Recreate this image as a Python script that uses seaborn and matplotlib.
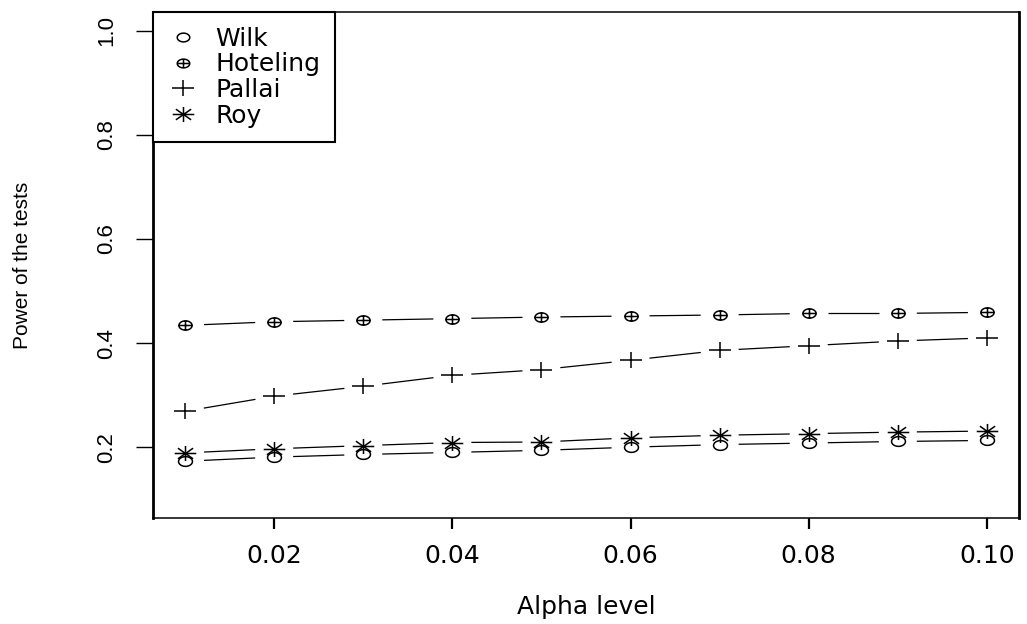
import numpy as np
import matplotlib
matplotlib.use("Agg")
import matplotlib.pyplot as plt
import seaborn as sns
from matplotlib.path import Path
from matplotlib.markers import MarkerStyle
from matplotlib.collections import LineCollection
from matplotlib.lines import Line2D

# Significance levels and estimated power of the four multivariate tests
alpha = [0.01, 0.02, 0.03, 0.04, 0.05, 0.06, 0.07, 0.08, 0.09, 0.10]
wilk = [0.173, 0.181, 0.186, 0.190, 0.194, 0.200, 0.205, 0.208, 0.211, 0.213]
hoteling = [0.434, 0.441, 0.444, 0.447, 0.450, 0.452, 0.454, 0.457, 0.457, 0.459]
pallai = [0.269, 0.298, 0.317, 0.338, 0.349, 0.367, 0.386, 0.395, 0.404, 0.410]
roy = [0.189, 0.197, 0.203, 0.209, 0.210, 0.218, 0.223, 0.226, 0.229, 0.231]
test_names = ["Wilk", "Hoteling", "Pallai", "Roy"]

x_ticks = [0.02, 0.04, 0.06, 0.08, 0.10]
y_ticks = [0.2, 0.4, 0.6, 0.8, 1.0]

sns.set_theme(style="white")
plt.rcParams["font.family"] = ["DejaVu Sans"]
plt.rcParams.update({
    "axes.edgecolor": "black",
    "text.color": "black",
    "axes.labelcolor": "black",
    "xtick.color": "black",
    "ytick.color": "black",
})

# ---- R-style plotting symbols (slightly flattened) ----
SQ = 0.7


def ellipse_path(n=72):
    t = np.linspace(0, 2 * np.pi, n)
    v = np.column_stack([np.cos(t), SQ * np.sin(t)])
    codes = [Path.MOVETO] + [Path.LINETO] * (n - 2) + [Path.CLOSEPOLY]
    return Path(v, codes)


def plus_path():
    v = [(-1, 0), (1, 0), (0, -SQ), (0, SQ)]
    return Path(v, [Path.MOVETO, Path.LINETO, Path.MOVETO, Path.LINETO])


def cross_path():
    d = 1 / np.sqrt(2)
    v = [(-d, -SQ * d), (d, SQ * d), (-d, SQ * d), (d, -SQ * d)]
    return Path(v, [Path.MOVETO, Path.LINETO, Path.MOVETO, Path.LINETO])


sym_circle = ellipse_path()
sym_oplus = Path.make_compound_path(ellipse_path(), plus_path())
sym_plus = plus_path()
sym_star = Path.make_compound_path(plus_path(), cross_path())

series = [wilk, hoteling, pallai, roy]
symbols = [sym_circle, sym_oplus, sym_plus, sym_star]
sym_sizes = [10.0, 9.5, 16.0, 15.5]

fig = plt.figure(figsize=(10.27, 6.24), dpi=100)
ax = fig.add_axes([153 / 1027, 1 - 518 / 624, 866 / 1027, 506 / 624])
ax.set_xlim(0.0064, 0.1036)
ax.set_ylim(0.064, 1.036)

# Points
for vals, sym, ms, name in zip(series, symbols, sym_sizes, test_names):
    sns.lineplot(x=alpha, y=vals, ax=ax, marker=MarkerStyle(sym), linestyle="none",
                 markersize=ms, markerfacecolor="none", markeredgecolor="black",
                 markeredgewidth=1.1, color="black", errorbar=None, label=name,
                 legend=False)

# Connecting segments with gaps around each point (type = "b")
GAP = 19.0  # pixels
fig.canvas.draw()
to_px = ax.transData
to_data = ax.transData.inverted()
for vals in series:
    pts = to_px.transform(np.column_stack([alpha, vals]))
    segs = []
    for p0, p1 in zip(pts[:-1], pts[1:]):
        d = p1 - p0
        L = np.hypot(*d)
        if L <= 2 * GAP:
            continue
        u = d / L
        a = to_data.transform(p0 + u * GAP)
        b = to_data.transform(p1 - u * GAP)
        segs.append([a, b])
    ax.add_collection(LineCollection(segs, colors="black", linewidths=0.9))

# Axes styling
ax.set_xticks(x_ticks)
ax.set_xticklabels([f"{v:.2f}" for v in x_ticks], fontsize=18)
ax.set_yticks(y_ticks)
ax.set_yticklabels([f"{v:.1f}" for v in y_ticks], rotation=90, va="center",
                   fontsize=16, family="Liberation Sans")
ax.tick_params(axis="x", direction="out", length=8, width=1.6, pad=11,
               bottom=True, colors="black")
ax.tick_params(axis="y", direction="out", length=12, width=1.0, pad=14,
               left=True, colors="black")
for side in ["left", "right"]:
    ax.spines[side].set_linewidth(2.0)
for side in ["top", "bottom"]:
    ax.spines[side].set_linewidth(1.1)
for sp in ax.spines.values():
    sp.set_color("black")

ax.set_xlabel("Alpha level", fontsize=18, va="center")
ax.xaxis.set_label_coords(0.5, -(607 - 518) / 506)
ax.set_ylabel("Power of the tests", fontsize=15, family="Liberation Sans",
              va="center", ha="center")
ax.yaxis.set_label_coords((23 - 153) / 866, 0.5)
ax.grid(False)

# Legend with symbols only
handles = [Line2D([], [], marker=MarkerStyle(sym), linestyle="none", markersize=ms,
                  markerfacecolor="none", markeredgecolor="black", markeredgewidth=1.1)
           for sym, ms in zip(symbols, [9.0, 9.0, 16.0, 15.5])]
leg = ax.legend(handles, test_names, loc="upper left", bbox_to_anchor=(0, 1),
                borderaxespad=0, fontsize=18, frameon=True, fancybox=False,
                framealpha=1, edgecolor="black", handlelength=1.2,
                handletextpad=0.7, labelspacing=0.07, borderpad=0.58)
leg.get_frame().set_linewidth(1.5)

fig.savefig("out.png", dpi=100, facecolor="white")
